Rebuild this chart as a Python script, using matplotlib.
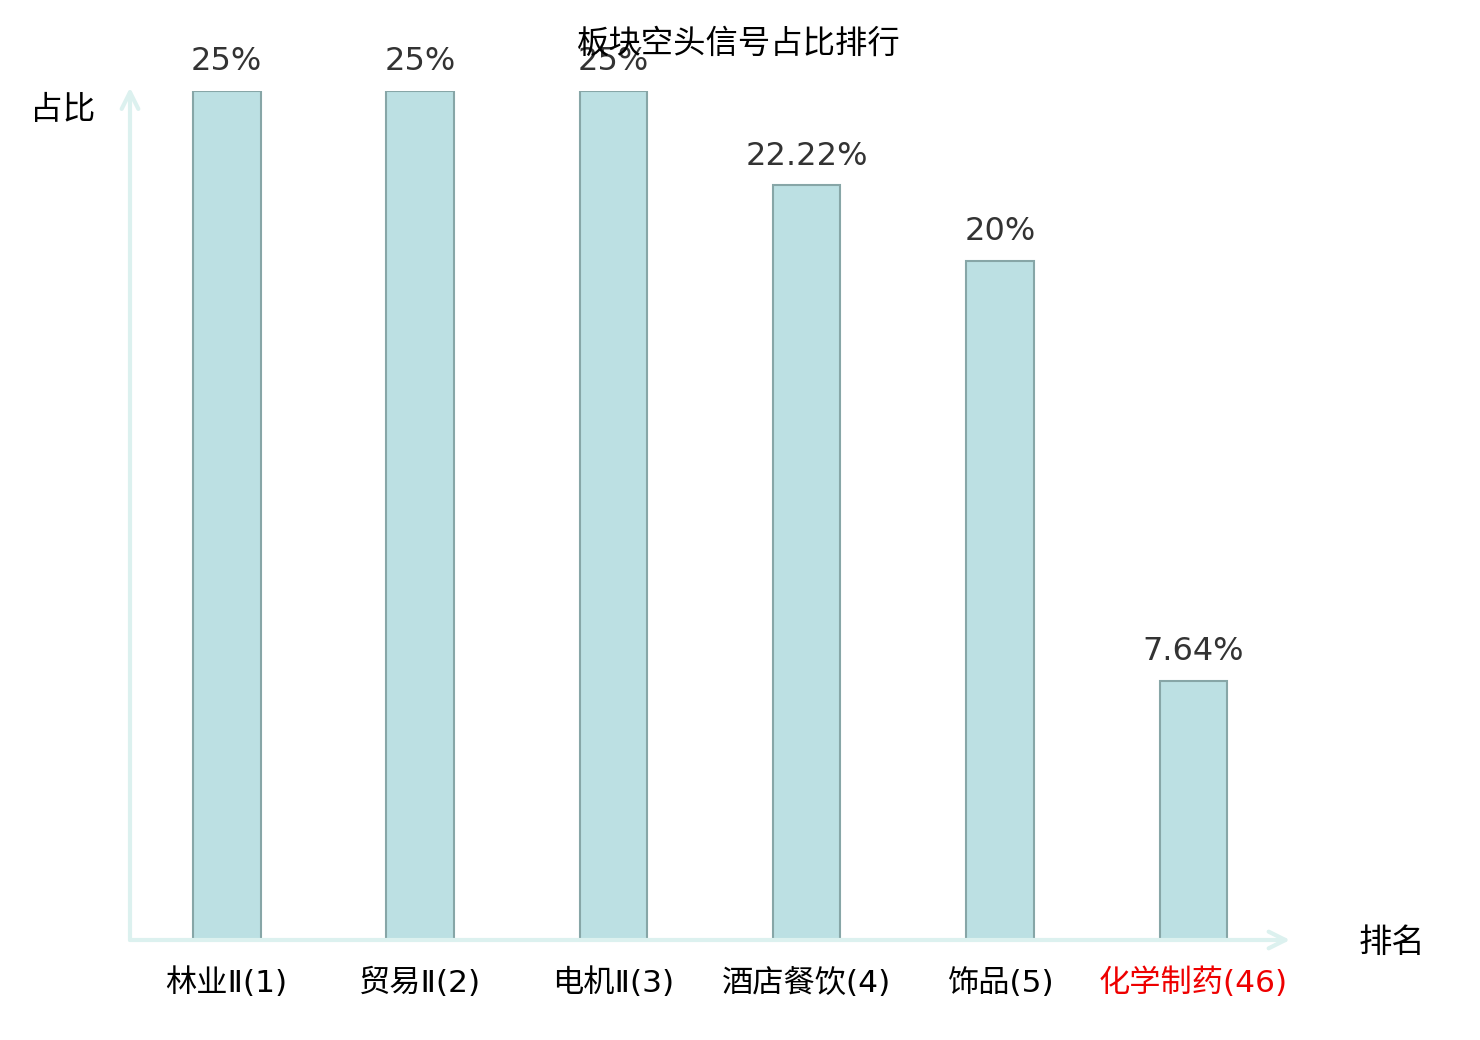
import matplotlib

matplotlib.use("Agg")
import matplotlib.pyplot as plt

plt.rcParams["font.family"] = ["DejaVu Sans", "Noto Sans CJK SC"]

CATEGORIES = ["林业Ⅱ(1)", "贸易Ⅱ(2)", "电机Ⅱ(3)", "酒店餐饮(4)", "饰品(5)", "化学制药(46)"]
VALUES = [25, 25, 25, 22.22, 20, 7.64]
VALUE_LABELS = ["25%", "25%", "25%", "22.22%", "20%", "7.64%"]
HIGHLIGHT = "化学制药(46)"

CJK = ["Noto Sans CJK SC", "DejaVu Sans"]
AXIS_COLOR = "#dcf1ef"

fig = plt.figure(figsize=(14.8, 10.4), dpi=100)
ax = fig.add_axes([130 / 1480, 100 / 1040, 1160 / 1480, 849 / 1040])

x = list(range(len(CATEGORIES)))
ax.bar(x, VALUES, width=0.35, color="#bce0e3", edgecolor="#87a6a7", linewidth=1.5)
ax.set_xlim(-0.5, len(CATEGORIES) - 0.5)
ax.set_ylim(0, 25)

for xi, v, lab in zip(x, VALUES, VALUE_LABELS):
    ax.annotate(lab, xy=(xi, v), xytext=(0, 10), textcoords="offset points",
                ha="center", va="bottom", fontsize=23, color="#333333")

for s in ax.spines.values():
    s.set_visible(False)
ax.set_yticks([])
ax.set_xticks(x)
ax.set_xticklabels(CATEGORIES, fontsize=22.5,
                   family=["DejaVu Sans", "Noto Sans CJK SC"])
ax.tick_params(axis="x", length=0, pad=20)
for t in ax.get_xticklabels():
    if t.get_text() == HIGHLIGHT:
        t.set_color("#ee0000")

# axis arrows
ax.annotate("", xy=(1.0, 0), xytext=(0, 0), xycoords="axes fraction",
            arrowprops=dict(arrowstyle="->", color=AXIS_COLOR, lw=3,
                            mutation_scale=30, shrinkA=0, shrinkB=0),
            annotation_clip=False)
ax.annotate("", xy=(0, 1.004), xytext=(0, 0), xycoords="axes fraction",
            arrowprops=dict(arrowstyle="->", color=AXIS_COLOR, lw=3,
                            mutation_scale=30, shrinkA=0, shrinkB=0),
            annotation_clip=False)

fig.text(63 / 1480, 1 - 110 / 1040, "占比", fontsize=23.5, family=CJK,
         ha="center", va="center")
fig.text(1392 / 1480, 1 - 942 / 1040, "排名", fontsize=24, family=CJK,
         ha="center", va="center")
fig.text(739 / 1480, 1 - 44 / 1040, "板块空头信号占比排行", fontsize=23.3,
         family=CJK, ha="center", va="center")

fig.savefig("out.png", dpi=100)
